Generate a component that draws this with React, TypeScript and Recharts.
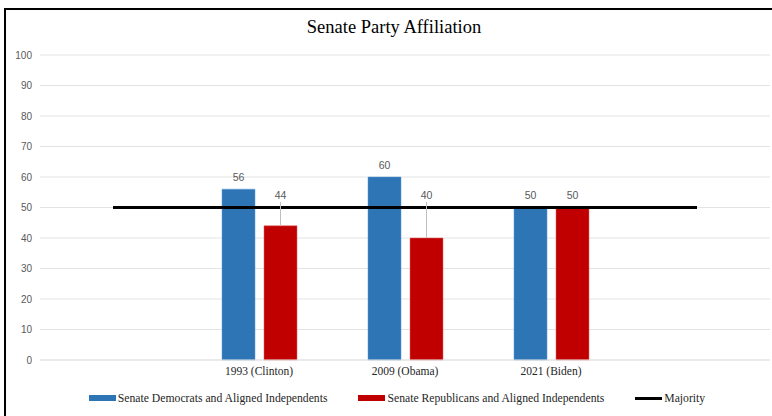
import React from "react";
import {
  ComposedChart,
  Bar,
  Line,
  XAxis,
  YAxis,
  CartesianGrid,
  Legend,
  LabelList,
} from "recharts";

// Empty first/last categories give the majority line its overhang past the bars
const categories = ["", "1993 (Clinton)", "2009 (Obama)", "2021 (Biden)", ""];
const democrats = [null, 56, 60, 50, null];
const republicans = [null, 44, 40, 50, null];
const majority = [50, 50, 50, 50, 50];
const yTicks = [0, 10, 20, 30, 40, 50, 60, 70, 80, 90, 100];

const MAJORITY = 50;
const BLUE = "#2E75B6";
const RED = "#C00000";
const SERIF = "'Liberation Serif', 'Times New Roman', serif";
const SANS = "'Liberation Sans', Arial, sans-serif";

const data = categories.map((name, i) => ({
  name,
  dem: democrats[i],
  rep: republicans[i],
  majority: majority[i],
}));

// Excel-style data label: pushed above the majority line, with a leader line when moved
const BarLabel = (props: any) => {
  const { x, y, width, height, value } = props;
  if (value == null || !value) return null;
  const base = y + height;
  const perUnit = height / value;
  const majY = base - MAJORITY * perUnit;
  const top = Math.min(y, majY);
  const cx = x + width / 2;
  const textY = top - 12.5;
  return (
    <g>
      {value < MAJORITY && (
        <line x1={cx} x2={cx} y1={textY + 7} y2={y} stroke="#bfbfbf" strokeWidth={1} />
      )}
      <text
        x={cx}
        y={textY}
        textAnchor="middle"
        dominantBaseline="central"
        fill="#595959"
        fontSize={10.5}
        fontFamily={SANS}
      >
        {value}
      </text>
    </g>
  );
};

const legendItems = [
  { label: "Senate Democrats and Aligned Independents", color: BLUE, kind: "bar" },
  { label: "Senate Republicans and Aligned Independents", color: RED, kind: "bar" },
  { label: "Majority", color: "#000", kind: "line" },
];

const LegendContent = () => (
  <div
    style={{
      display: "flex",
      justifyContent: "center",
      alignItems: "center",
      gap: 31,
      height: 36,
      paddingLeft: 24,
      fontFamily: SERIF,
      fontSize: 11.7,
      color: "#262626",
    }}
  >
    {legendItems.map((item) => (
      <div key={item.label} style={{ display: "flex", alignItems: "center" }}>
        <span
          style={{
            display: "inline-block",
            width: 27,
            height: item.kind === "bar" ? 6 : 3,
            background: item.color,
            marginRight: 2,
          }}
        />
        <span>{item.label}</span>
      </div>
    ))}
  </div>
);

const App: React.FC = () => {
  return (
    <div
      style={{
        position: "absolute",
        left: 0,
        top: 0,
        width: 772,
        height: 416,
        overflow: "hidden",
        background: "#fff",
      }}
    >
      <div
        style={{
          position: "absolute",
          left: 4,
          top: 8,
          width: 768,
          height: 408,
          borderLeft: "2px solid #000",
          borderTop: "2px solid #000",
          boxSizing: "border-box",
        }}
      />
      <div
        style={{
          position: "absolute",
          left: 0,
          top: 17,
          width: 788,
          textAlign: "center",
          fontFamily: SERIF,
          fontSize: 18.5,
          color: "#000",
        }}
      >
        Senate Party Affiliation
      </div>
      <div style={{ position: "absolute", left: 0, top: 0 }}>
        <ComposedChart
          width={772}
          height={416}
          data={data}
          margin={{ top: 55, right: 2, bottom: 0, left: 0 }}
          barGap={9}
        >
          <CartesianGrid vertical={false} stroke="#e3e3e3" />
          <XAxis
            dataKey="name"
            height={20}
            axisLine={{ stroke: "#e3e3e3" }}
            tickLine={false}
            tickSize={0}
            tickMargin={7}
            interval={0}
            tick={{ fontFamily: SERIF, fontSize: 11.5, fill: "#262626" }}
          />
          <YAxis
            width={40}
            domain={[0, 100]}
            ticks={yTicks}
            axisLine={false}
            tickLine={false}
            tickSize={0}
            tickMargin={8}
            tick={{ fontFamily: SANS, fontSize: 10, fill: "#595959" }}
          />
          <Legend verticalAlign="bottom" height={36} content={<LegendContent />} />
          <Bar
            dataKey="dem"
            name="Senate Democrats and Aligned Independents"
            fill={BLUE}
            stroke="#5b9bd5"
            strokeWidth={0.5}
            barSize={33}
            isAnimationActive={false}
          >
            <LabelList dataKey="dem" content={<BarLabel />} />
          </Bar>
          <Bar
            dataKey="rep"
            name="Senate Republicans and Aligned Independents"
            fill={RED}
            stroke="#e06060"
            strokeWidth={0.5}
            barSize={33}
            isAnimationActive={false}
          >
            <LabelList dataKey="rep" content={<BarLabel />} />
          </Bar>
          <Line
            dataKey="majority"
            name="Majority"
            stroke="#000"
            strokeWidth={3}
            dot={false}
            activeDot={false}
            type="linear"
            isAnimationActive={false}
          />
        </ComposedChart>
      </div>
    </div>
  );
};

export default App;
